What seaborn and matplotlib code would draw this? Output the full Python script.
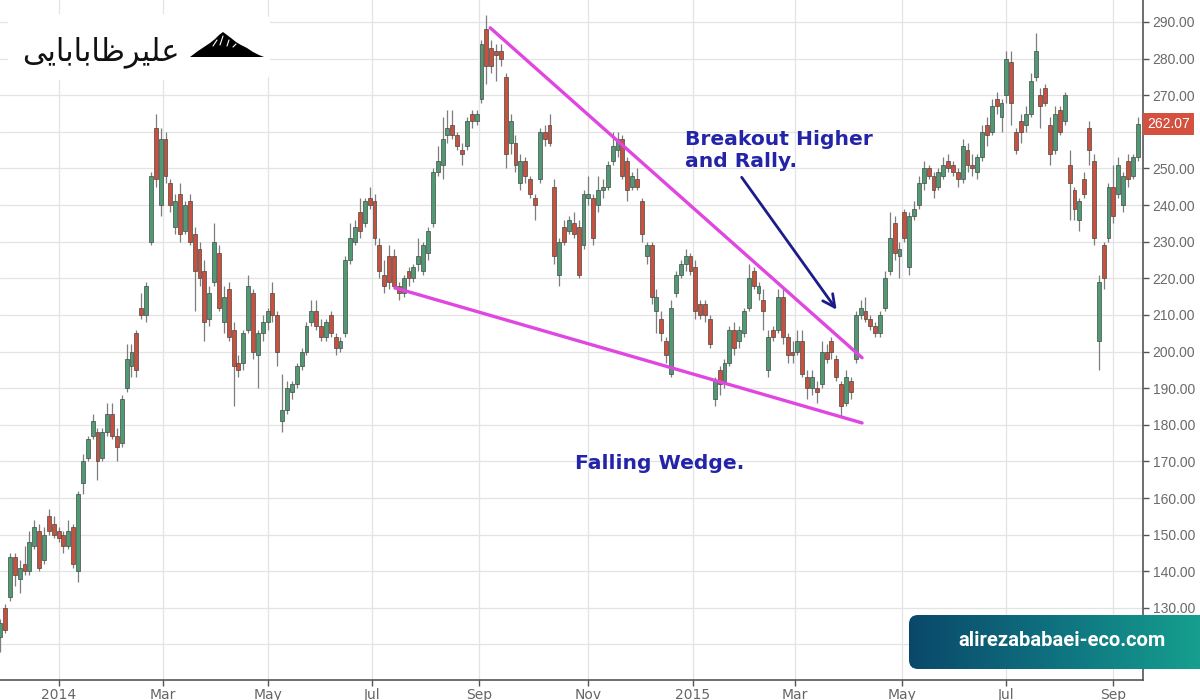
import numpy as np
import pandas as pd
import seaborn as sns
import matplotlib.pyplot as plt
from matplotlib.patches import FancyBboxPatch, Polygon
from matplotlib.colors import LinearSegmentedColormap

sns.set_theme(style="whitegrid")
plt.rcParams['font.family'] = ['DejaVu Sans']

# OHLC, one candle per two trading days from 2013-11-28
opens = [122, 130, 133, 144, 138, 142, 140, 147, 151, 143, 155, 153, 151, 150, 147, 152, 140, 164, 171, 177,
         178, 171, 178, 183, 177, 175, 190, 196, 205, 212, 210, 230, 261, 240, 258, 246, 234, 243, 233, 241,
         232, 228, 222, 209, 219, 227, 208, 217, 206, 197, 197, 206, 216, 199, 205, 208, 216, 210, 181, 184,
         189, 191, 196, 200, 208, 211, 207, 204, 210, 204, 201, 205, 225, 230, 238, 235, 242, 241, 229, 221,
         226, 226, 218, 216, 222, 220, 224, 222, 227, 235, 249, 251, 259, 262, 259, 255, 256, 265, 263, 269,
         288, 283, 282, 282, 275, 257, 257, 246, 252, 247, 242, 247, 260, 262, 245, 221, 234, 233, 235, 234,
         229, 242, 242, 240, 244, 245, 252, 255, 258, 252, 245, 247, 241, 226, 229, 211, 209, 203, 194, 216,
         221, 224, 226, 223, 213, 213, 209, 187, 195, 192, 197, 206, 203, 205, 212, 222, 216, 214, 195, 206,
         206, 215, 204, 200, 200, 203, 193, 190, 190, 191, 200, 203, 198, 191, 186, 192, 198, 210, 211, 209,
         207, 205, 212, 222, 235, 226, 238, 223, 237, 240, 246, 250, 248, 245, 248, 252, 251, 249, 247, 255,
         251, 249, 253, 262, 260, 269, 264, 270, 279, 260, 263, 262, 265, 275, 270, 272, 262, 255, 266, 263,
         251, 244, 236, 247, 261, 252, 203, 229, 231, 245, 243, 240, 252, 248, 253]
highs = [127, 131, 145, 145, 143, 147, 151, 154, 153, 152, 157, 155, 152, 151, 154, 153, 162, 172, 177, 183,
         179, 179, 186, 186, 179, 188, 202, 202, 206, 216, 219, 249, 265, 261, 260, 247, 243, 246, 241, 243,
         234, 230, 225, 218, 235, 229, 218, 219, 208, 199, 206, 221, 217, 206, 210, 212, 219, 211, 194, 192,
         192, 197, 201, 208, 214, 214, 209, 209, 211, 205, 204, 226, 235, 236, 242, 242, 245, 243, 231, 225,
         229, 228, 219, 221, 223, 224, 231, 230, 234, 250, 256, 264, 266, 266, 260, 257, 264, 266, 266, 285,
         292, 285, 284, 284, 276, 265, 259, 254, 253, 248, 243, 261, 262, 265, 247, 231, 236, 237, 238, 236,
         244, 248, 243, 248, 247, 252, 260, 260, 259, 253, 249, 250, 242, 230, 230, 217, 211, 204, 214, 222,
         225, 228, 227, 225, 214, 214, 210, 193, 196, 198, 207, 208, 207, 212, 224, 223, 219, 217, 206, 207,
         217, 217, 205, 203, 206, 206, 195, 195, 192, 203, 202, 204, 199, 192, 195, 193, 211, 214, 215, 210,
         208, 211, 222, 238, 237, 230, 239, 238, 241, 248, 252, 251, 249, 250, 253, 254, 252, 250, 258, 257,
         254, 254, 262, 264, 269, 271, 269, 282, 282, 261, 265, 267, 276, 287, 272, 273, 264, 267, 267, 271,
         255, 245, 242, 249, 263, 254, 221, 230, 246, 251, 253, 249, 254, 254, 264]
lows = [118, 123, 132, 136, 134, 139, 139, 146, 140, 142, 150, 149, 148, 145, 146, 141, 137, 161, 170, 176,
        165, 170, 177, 176, 170, 174, 189, 193, 193, 209, 208, 229, 245, 237, 246, 238, 232, 230, 232, 229,
        211, 218, 203, 207, 218, 211, 205, 203, 185, 193, 195, 205, 198, 190, 203, 206, 208, 196, 178, 183,
        187, 190, 195, 199, 207, 206, 203, 203, 204, 199, 200, 204, 224, 229, 231, 234, 239, 229, 220, 216,
        217, 217, 214, 215, 218, 219, 222, 221, 225, 234, 248, 247, 257, 258, 255, 251, 255, 261, 262, 268,
        273, 276, 274, 278, 250, 254, 249, 244, 246, 242, 236, 246, 256, 256, 224, 218, 229, 232, 231, 220,
        228, 240, 229, 238, 242, 244, 251, 253, 247, 241, 244, 244, 230, 224, 213, 205, 203, 197, 193, 215,
        220, 222, 221, 209, 209, 208, 201, 185, 188, 190, 196, 199, 201, 204, 211, 217, 214, 206, 193, 203,
        205, 202, 197, 197, 199, 193, 187, 188, 186, 190, 197, 198, 192, 182, 185, 187, 197, 209, 208, 206,
        204, 204, 211, 221, 225, 220, 230, 221, 236, 239, 244, 247, 242, 244, 247, 249, 248, 245, 246, 249,
        248, 247, 252, 256, 259, 265, 260, 268, 262, 254, 257, 260, 264, 274, 261, 267, 251, 254, 259, 262,
        236, 236, 233, 242, 251, 229, 195, 217, 230, 235, 242, 238, 245, 247, 252]
closes = [126, 124, 144, 139, 141, 140, 148, 152, 141, 150, 151, 150, 149, 147, 151, 142, 161, 170, 176, 181,
          170, 178, 183, 177, 174, 187, 198, 200, 195, 210, 218, 248, 247, 258, 248, 240, 241, 232, 240, 230,
          222, 220, 208, 216, 230, 212, 215, 204, 196, 195, 205, 218, 200, 205, 208, 211, 210, 200, 184, 190,
          191, 196, 200, 207, 211, 207, 204, 208, 205, 201, 203, 225, 231, 234, 233, 241, 240, 231, 222, 218,
          219, 218, 216, 220, 220, 223, 226, 229, 233, 249, 252, 258, 261, 259, 256, 254, 263, 263, 265, 284,
          278, 278, 281, 280, 254, 263, 251, 252, 248, 243, 240, 260, 258, 257, 226, 230, 230, 236, 232, 221,
          243, 243, 231, 244, 245, 251, 256, 258, 248, 244, 248, 245, 232, 229, 215, 215, 205, 199, 212, 221,
          224, 226, 222, 211, 210, 210, 202, 192, 191, 197, 206, 201, 206, 211, 220, 218, 218, 211, 204, 204,
          215, 204, 199, 199, 203, 194, 190, 193, 189, 200, 198, 200, 193, 185, 193, 189, 210, 212, 209, 207,
          205, 210, 220, 231, 227, 228, 231, 237, 239, 246, 250, 248, 244, 249, 251, 250, 249, 247, 256, 251,
          250, 253, 260, 259, 267, 267, 268, 280, 268, 255, 260, 265, 274, 282, 267, 268, 254, 265, 260, 270,
          246, 239, 241, 243, 255, 231, 219, 220, 245, 237, 251, 248, 247, 253, 262.07]

first_day = "2013-11-28"
month_ticks = ["2014-01", "2014-03", "2014-05", "2014-07", "2014-09", "2014-11",
               "2015-01", "2015-03", "2015-05", "2015-07", "2015-09"]
month_labels = ["2014", "Mar", "May", "Jul", "Sep", "Nov", "2015", "Mar", "May", "Jul", "Sep"]
price_ticks = list(range(120, 300, 10))
hidden_ticks = [120, 260]   # covered by the watermark and the last-price box
last_price = 262.07

# wedge trend lines and arrow, as (candle index, price)
upper_x = [100.8, 177.3]
upper_y = [288.4, 198.3]
lower_x = [81.2, 177.3]
lower_y = [217.4, 180.5]
arrow_tail = (152.2, 248.2)
arrow_head = (172.4, 210.8)

df = pd.DataFrame({'open': opens, 'high': highs, 'low': lows, 'close': closes})
df['idx'] = np.arange(len(df))
days = pd.bdate_range(first_day, periods=2 * len(df))
day_pos = pd.Series(np.arange(len(days)) / 2, index=days)
tick_pos = [day_pos[day_pos.index.strftime('%Y-%m') == m].iloc[0] for m in month_ticks]

fig = plt.figure(figsize=(12, 7), dpi=100)
ax = fig.add_axes([0, 20 / 700, 1143 / 1200, 680 / 700])
ax.set_facecolor('white')

# candles
up = df['close'] >= df['open']
body_lo = df[['open', 'close']].min(axis=1)
body_h = (df['close'] - df['open']).abs().clip(lower=0.5)
colors = np.where(up, '#4f9a72', '#c8503d')
ax.vlines(df['idx'], df['low'], df['high'], color='#7d7d7d', lw=0.9, zorder=2)
ax.bar(df['idx'], body_h, bottom=body_lo, width=0.8, color=colors,
       edgecolor='#474747', linewidth=0.5, zorder=3)

# wedge
sns.lineplot(x=upper_x, y=upper_y, ax=ax, color='#e046e0', lw=2.4, zorder=4)
sns.lineplot(x=lower_x, y=lower_y, ax=ax, color='#e046e0', lw=2.4, zorder=4)

ax.annotate('', xy=arrow_head, xytext=arrow_tail,
            arrowprops=dict(arrowstyle='->', color='#1b1b8a', lw=2, mutation_scale=22), zorder=5)
ax.text(140.9, 260.4, "Breakout Higher\nand Rally.", color='#2424a8', fontsize=14.6,
        fontweight='bold', ha='left', va='top', linespacing=1.15, zorder=5)
ax.text(118.3, 169.3, "Falling Wedge.", color='#2424a8', fontsize=14.6,
        fontweight='bold', ha='left', va='center', zorder=5)

ax.set_xlim(-0.05, 235.1)
ax.set_ylim(110.3, 296.0)

ax.set_xticks(tick_pos)
ax.set_xticklabels(month_labels, fontfamily=['Liberation Sans Narrow', 'DejaVu Sans'],
                   fontsize=10, color='#666666')
ax.tick_params(axis='x', bottom=True, length=4, width=1, color='#555555', pad=2)

ax.yaxis.tick_right()
ax.set_yticks(price_ticks)
ax.set_yticklabels(["" if v in hidden_ticks else f"{v:.2f}" for v in price_ticks],
                   fontfamily=['Liberation Sans', 'DejaVu Sans'], fontsize=10, color='#6a6a6a')
ax.tick_params(axis='y', right=True, left=False, length=4, width=1, color='#555555', pad=3)

ax.grid(True, color='#e3e3e3', lw=0.9)
ax.set_axisbelow(True)
for s in ['top', 'left']:
    ax.spines[s].set_visible(False)
for s in ['right', 'bottom']:
    ax.spines[s].set_color('#555555')
    ax.spines[s].set_linewidth(1.2)

ax.annotate(f"{last_price:.2f}", xy=(1.0, last_price), xycoords=('axes fraction', 'data'),
            xytext=(3, 0), textcoords='offset points', ha='left', va='center',
            color='white', fontsize=10, fontfamily=['Liberation Sans', 'DejaVu Sans'],
            bbox=dict(boxstyle='square,pad=0.3', fc='#d4503f', ec='none'),
            annotation_clip=False, zorder=10)

# logo top-left
fig.add_artist(FancyBboxPatch((0.08, 6.2), 2.62, 0.66, boxstyle='round,pad=0,rounding_size=0.08',
                              transform=fig.dpi_scale_trans, fc='white', ec='none', zorder=4))
logo_text = "\uFEF0\uFEF3\uFE8E\uFE91\uFE8E\uFE91\uFE8E\uFEC7\uFEAE\uFEF4\uFEE0\uFECB"
fig.text(22 / 1200, 1 - 60 / 700, logo_text, fontsize=22, color='#111111',
         family='DejaVu Sans', ha='left', va='baseline', zorder=6)
mountain = [(190, 57), (198, 51), (204, 47), (210, 43), (215, 39), (219, 35), (223, 32), (227, 35),
            (231, 38), (236, 42), (241, 45), (247, 48), (253, 52), (259, 55), (264, 57)]
fig.add_artist(Polygon([(x / 1200, 1 - y / 700) for x, y in mountain], closed=True,
                       transform=fig.transFigure, fc='black', ec='none', zorder=6))
for (x0, y0), (x1, y1) in [((213, 46), (217, 40)), ((220, 45), (223, 36)), ((227, 46), (229, 40)),
                           ((233, 47), (236, 44))]:
    fig.add_artist(plt.Line2D([x0 / 1200, x1 / 1200], [1 - y0 / 700, 1 - y1 / 700],
                              transform=fig.transFigure, color='white', lw=0.8, zorder=7))

# watermark bottom-right
wm_ax = fig.add_axes([909 / 1200, 31 / 700, 300 / 1200, 54 / 700], zorder=5)
wm_ax.axis('off')
cmap = LinearSegmentedColormap.from_list('wm', ['#0a486a', '#0f7380', '#16a28f'])
grad = np.linspace(0, 1, 256).reshape(1, -1)
img = wm_ax.imshow(grad, cmap=cmap, aspect='auto', extent=(0, 1, 0, 1))
clip = FancyBboxPatch((9.09, 0.31), 3.2, 0.54, boxstyle='round,pad=0,rounding_size=0.09',
                      transform=fig.dpi_scale_trans, fc='none', ec='none')
img.set_clip_path(clip)
fig.text(1062 / 1200, 1 - 641 / 700, "alirezababaei-eco.com", color='white', fontsize=14.5,
         fontweight='bold', family=['Roboto', 'DejaVu Sans'], ha='center', va='center', zorder=10)

fig.savefig('out.png', dpi=100)
